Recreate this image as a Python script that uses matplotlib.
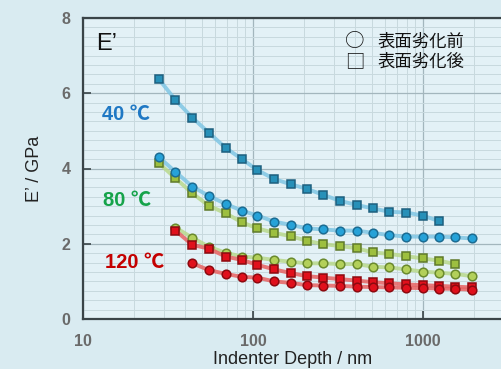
import matplotlib.pyplot as plt
import numpy as np

# indenter depth (nm), shared grid of measurement points
depth = [28, 35, 44, 55, 69, 86, 106, 133, 167, 207, 259, 325, 408, 506, 634,
         794, 995, 1248, 1542, 1932]

# E' (GPa); "sq" = after surface degradation, "ci" = before
e40_sq = [6.37, 5.82, 5.35, 4.95, 4.55, 4.25, 3.96, 3.72, 3.58, 3.46, 3.30, 3.14,
          3.03, 2.94, 2.85, 2.83, 2.75, 2.60]
e40_ci = [4.30, 3.91, 3.52, 3.27, 3.06, 2.88, 2.75, 2.59, 2.50, 2.41, 2.38, 2.35,
          2.35, 2.29, 2.23, 2.19, 2.19, 2.19, 2.17, 2.14]
e80_sq = [4.14, 3.74, 3.34, 3.01, 2.81, 2.57, 2.41, 2.29, 2.20, 2.08, 1.99, 1.94,
          1.88, 1.77, 1.73, 1.67, 1.61, 1.55, 1.46]
e80_ci = [2.43, 2.16, 1.92, 1.76, 1.66, 1.63, 1.57, 1.52, 1.48, 1.48, 1.46, 1.46,
          1.39, 1.37, 1.32, 1.26, 1.23, 1.20, 1.14]
e120_sq = [2.35, 1.97, 1.87, 1.66, 1.57, 1.44, 1.32, 1.22, 1.14, 1.10, 1.06, 1.02,
           0.98, 0.95, 0.92, 0.90, 0.88, 0.86, 0.84]
e120_ci = [1.48, 1.30, 1.20, 1.12, 1.10, 1.00, 0.96, 0.90, 0.89, 0.88, 0.86, 0.85,
           0.84, 0.83, 0.82, 0.81, 0.80, 0.78]

BG = '#d9ebf1'
fam = ['Liberation Sans', 'Noto Sans CJK JP', 'DejaVu Sans']


def series(ax, x, y, line, face, edge, marker):
    ax.plot(x, y, '-', color=line, lw=2.8, alpha=0.85, zorder=3)
    ax.plot(x, y, ls='none', marker=marker, ms=6.2 if marker == 'o' else 5.4,
            mfc=face, mec=edge, mew=1.1, zorder=4)


def main():
    fig = plt.figure(figsize=(5.02, 3.69), dpi=100, facecolor=BG)
    ax = fig.add_axes([83 / 502, 50 / 369, 419 / 502, 301 / 369])
    ax.set_facecolor('#e3f1f6')

    ax.set_xscale('log')
    ax.set_xlim(10, 10 ** (1 + 419 / 170))
    ax.set_ylim(0, 8)
    ax.set_yticks([0, 2, 4, 6, 8])
    ax.set_yticks(np.arange(0, 8.01, 0.25), minor=True)

    ax.grid(which='major', color='#a3b6bd', lw=0.9)
    ax.grid(which='minor', color='#c8d9de', lw=0.7)
    ax.set_axisbelow(True)

    # green first, then blue, then red (red/blue drawn on top)
    x = np.array(depth)
    series(ax, x[:len(e80_sq)], e80_sq, '#b9d98c', '#9dbf3f', '#5f7a2a', 's')
    series(ax, x[1:1 + len(e80_ci)], e80_ci, '#b9d98c', '#b3d05a', '#6a8a2e', 'o')
    series(ax, x[:len(e40_sq)], e40_sq, '#7fc6e4', '#2790b8', '#1d5f7e', 's')
    series(ax, x[:len(e40_ci)], e40_ci, '#7fc6e4', '#26a2d8', '#1c6c92', 'o')
    series(ax, x[1:1 + len(e120_sq)], e120_sq, '#e86262', '#e0101c', '#8c0a10', 's')
    series(ax, x[2:2 + len(e120_ci)], e120_ci, '#e86262', '#e0101c', '#8c0a10', 'o')

    for s in ['left', 'bottom', 'top']:
        ax.spines[s].set_color('#3a4448')
        ax.spines[s].set_linewidth(1.6)
    ax.spines['right'].set_visible(False)

    ax.tick_params(which='major', direction='in', length=6, width=1.2,
                   color='#3a4448', labelsize=11.5, labelcolor='#6a6a6a', pad=9)
    ax.tick_params(which='minor', length=0)
    ax.tick_params(axis='x', pad=11)
    ax.set_xticks([10, 100, 1000])
    ax.set_xticklabels(['10', '100', '1000'])
    for lab in ax.get_xticklabels() + ax.get_yticklabels():
        lab.set_fontweight('bold')
        lab.set_family(fam)

    ax.set_xlabel('Indenter Depth / nm', fontsize=13, family=fam,
                  color='#222222', labelpad=1)
    ax.set_ylabel('E\u2019 / GPa', fontsize=13, family=fam,
                  color='#222222', labelpad=13)

    ax.text(11.9, 7.3, 'E\u2019', fontsize=17, family=fam, color='#111111',
            va='center')
    cjk = ['Noto Sans CJK JP']
    ax.text(0.626, 0.922, '\u25cb', transform=ax.transAxes, fontsize=14,
            family=cjk, color='#111111', va='center')
    ax.text(0.626, 0.855, '\u25a1', transform=ax.transAxes, fontsize=14,
            family=cjk, color='#111111', va='center')
    ax.text(0.703, 0.922, '表面劣化前', transform=ax.transAxes,
            fontsize=12.5, family=cjk, color='#111111', va='center')
    ax.text(0.703, 0.855, '表面劣化後', transform=ax.transAxes,
            fontsize=12.5, family=cjk, color='#111111', va='center')

    tf = dict(fontsize=14.5, fontweight='bold', family=fam, va='center')
    ax.text(12.9, 5.43, '40 \u2103', color='#1f78c4', **tf)
    ax.text(13.1, 3.16, '80 \u2103', color='#16a34a', **tf)
    ax.text(13.4, 1.49, '120 \u2103', color='#c40000', **tf)

    fig.savefig('out.png', dpi=100, facecolor=BG)


if __name__ == '__main__':
    main()
